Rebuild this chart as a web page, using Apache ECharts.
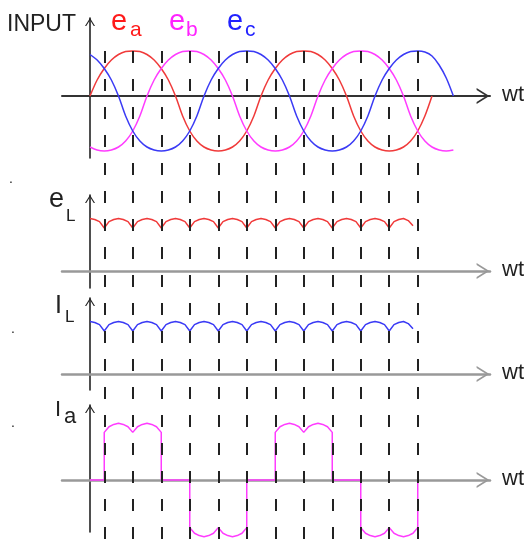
<!DOCTYPE html>
<html>
<head>
<meta charset="utf-8">
<script src="https://cdn.jsdelivr.net/npm/echarts@6/dist/echarts.min.js"></script>
<style>
  html, body { margin: 0; background: #fff; }
  #chart { width: 530px; height: 545px; }
</style>
</head>
<body>
<div id="chart"></div>
<script>
// ---- data (wt in degrees) ----
const inputWt = [0, 15, 30, 45, 60, 75, 90, 105, 120, 135, 150, 165, 180, 195, 210, 225, 240, 255,
  270, 285, 300, 315, 330, 345, 360, 375, 390, 405, 420, 435, 450, 465, 480, 495, 510, 525,
  540, 555, 570, 585, 600, 615, 630, 645, 660, 675, 690, 705, 720, 735, 750, 765];
const ea = [0, .32, .55, .72, .83, .89, .9, .89, .83, .72, .55, .32, 0, -.4, -.7, -.9, -1.02, -1.08,
  -1.1, -1.08, -1.02, -.9, -.7, -.4, 0, .32, .55, .72, .83, .89, .9, .89, .83, .72, .55, .32,
  0, -.4, -.7, -.9, -1.02, -1.08, -1.1, -1.08, -1.02, -.9, -.7, -.4, 0];
const eb = [-1.02, -1.08, -1.1, -1.08, -1.02, -.9, -.7, -.4, 0, .32, .55, .72, .83, .89, .9, .89,
  .83, .72, .55, .32, 0, -.4, -.7, -.9, -1.02, -1.08, -1.1, -1.08, -1.02, -.9, -.7, -.4,
  0, .32, .55, .72, .83, .89, .9, .89, .83, .72, .55, .32, 0, -.4, -.7, -.9, -1.02, -1.08, -1.1, -1.08];
const ec = [.83, .72, .55, .32, 0, -.4, -.7, -.9, -1.02, -1.08, -1.1, -1.08, -1.02, -.9, -.7, -.4,
  0, .32, .55, .72, .83, .89, .9, .89, .83, .72, .55, .32, 0, -.4, -.7, -.9, -1.02, -1.08, -1.1, -1.08,
  -1.02, -.9, -.7, -.4, 0, .32, .55, .72, .83, .89, .9, .88, .8, .62, .36, 0];

const rippleWt = [0, 10, 20, 30, 40, 50, 60, 70, 80, 90, 100, 110, 120, 130, 140, 150, 160, 170,
  180, 190, 200, 210, 220, 230, 240, 250, 260, 270, 280, 290, 300, 310, 320, 330, 340, 350,
  360, 370, 380, 390, 400, 410, 420, 430, 440, 450, 460, 470, 480, 490, 500, 510, 520, 530,
  540, 550, 560, 570, 580, 590, 600, 610, 620, 630, 640, 650, 660, 670, 680];
const eL = [1, .98, .94, .82, .94, .98, 1, .98, .94, .82, .94, .98, 1, .98, .94, .82, .94, .98,
  1, .98, .94, .82, .94, .98, 1, .98, .94, .82, .94, .98, 1, .98, .94, .82, .94, .98,
  1, .98, .94, .82, .94, .98, 1, .98, .94, .82, .94, .98, 1, .98, .94, .82, .94, .98,
  1, .98, .94, .82, .94, .98, 1, .98, .94, .82, .94, .98, 1, .96, .86];
const iL = [1, .98, .94, .82, .94, .98, 1, .98, .94, .82, .94, .98, 1, .98, .94, .82, .94, .98,
  1, .98, .94, .82, .94, .98, 1, .98, .94, .82, .94, .98, 1, .98, .94, .82, .94, .98,
  1, .98, .94, .82, .94, .98, 1, .98, .94, .82, .94, .98, 1, .98, .94, .82, .94, .98,
  1, .98, .94, .82, .94, .98, 1, .98, .94, .82, .94, .98, 1, .96, .86];

const iaWt = [0,
  30, 30, 40, 50, 60, 70, 80, 90, 100, 110, 120, 130, 140, 150, 150,
  210, 210, 220, 230, 240, 250, 260, 270, 280, 290, 300, 310, 320, 330, 330,
  390, 390, 400, 410, 420, 430, 440, 450, 460, 470, 480, 490, 500, 510, 510,
  570, 570, 580, 590, 600, 610, 620, 630, 640, 650, 660, 670, 680, 690, 690];
const ia = [0,
  0, .84, .94, .98, 1, .98, .94, .84, .94, .98, 1, .98, .94, .84, 0,
  0, -.84, -.94, -.98, -1, -.98, -.94, -.84, -.94, -.98, -1, -.98, -.94, -.84, 0,
  0, .84, .94, .98, 1, .98, .94, .84, .94, .98, 1, .98, .94, .84, 0,
  0, -.84, -.94, -.98, -1, -.98, -.94, -.84, -.94, -.98, -1, -.98, -.94, -.84, 0];

const dashWt = [30, 90, 150, 210, 270, 330, 390, 450, 510, 570, 630, 690];

// ---- layout ----
const X0 = 90, PX_PER_DEG = 0.475, AX_LEFT = 62, AX_RIGHT = 490;
const xMin = (AX_LEFT - X0) / PX_PER_DEG;
const xMax = (AX_RIGHT - X0) / PX_PER_DEG;

const panels = [
  { top: 18, zero: 96, bottom: 158, unit: 50, hColor: '#333', hWidth: 2 },
  { top: 195, zero: 271, bottom: 288, unit: 52.5, hColor: '#999', hWidth: 2.5 },
  { top: 298, zero: 374, bottom: 390, unit: 52.5, hColor: '#999', hWidth: 2.5 },
  { top: 405, zero: 480, bottom: 532, unit: 56.7, hColor: '#999', hWidth: 2.5 }
];

const chevron = 'path://M10,0L20,16L17.5,16L10,4L2.5,16L0,16Z';
const FONT = '"Liberation Sans", Arial, sans-serif';

const grids = [], xAxes = [], yAxes = [];
panels.forEach(function (p) {
  grids.push({ left: AX_LEFT, width: AX_RIGHT - AX_LEFT, top: p.top, height: p.bottom - p.top });
  xAxes.push({
    type: 'value', gridIndex: grids.length - 1, min: xMin, max: xMax,
    axisLine: { onZero: true, symbol: ['none', chevron], symbolSize: [16, 14], symbolOffset: [0, -7],
      lineStyle: { color: p.hColor, width: p.hWidth } },
    axisTick: { show: false }, axisLabel: { show: false }, splitLine: { show: false }
  });
  yAxes.push({
    type: 'value', gridIndex: grids.length - 1,
    min: -(p.bottom - p.zero) / p.unit, max: (p.zero - p.top) / p.unit,
    axisLine: { show: true, onZero: true, symbol: ['none', chevron], symbolSize: [10, 8], symbolOffset: [0, -4],
      lineStyle: { color: '#222', width: 1.6 } },
    axisTick: { show: false }, axisLabel: { show: false }, splitLine: { show: false }
  });
});
// full height grid for the dashed guide lines
grids.push({ left: AX_LEFT, width: AX_RIGHT - AX_LEFT, top: 51, height: 494 });
xAxes.push({ type: 'value', gridIndex: 4, min: xMin, max: xMax, show: false });
yAxes.push({ type: 'value', gridIndex: 4, min: 0, max: 1, show: false });

function pairs(xs, ys) {
  return ys.map(function (v, i) { return [xs[i], v]; });
}

function curve(idx, xs, ys, color, smooth) {
  return {
    type: 'line', xAxisIndex: idx, yAxisIndex: idx, data: pairs(xs, ys),
    smooth: smooth, symbol: 'none', clip: false, z: 3,
    lineStyle: { color: color, width: 1.5 }
  };
}

function label(x, y, text, size, color) {
  return { type: 'text', x: x, y: y, z: 10,
    style: { text: text, fill: color, font: size + 'px ' + FONT, textAlign: 'left', verticalAlign: 'middle' } };
}

const option = {
  animation: false,
  backgroundColor: '#fff',
  grid: grids,
  xAxis: xAxes,
  yAxis: yAxes,
  series: [
    {
      type: 'line', xAxisIndex: 4, yAxisIndex: 4, data: [], z: 1,
      markLine: {
        silent: true, symbol: ['none', 'none'], label: { show: false },
        lineStyle: { color: '#222', width: 2, type: [12, 16], dashOffset: 22 },
        data: dashWt.map(function (v) { return { xAxis: v }; })
      }
    },
    curve(0, inputWt, ea, '#f03a3a', 0.3),
    curve(0, inputWt, eb, '#ff3cff', 0.3),
    curve(0, inputWt, ec, '#3a3af5', 0.3),
    curve(1, rippleWt, eL, '#f03a3a', false),
    curve(2, rippleWt, iL, '#3a3af5', false),
    curve(3, iaWt, ia, '#ff3cff', false)
  ],
  graphic: [
    label(7, 25, 'INPUT', 23, '#222'),
    label(111, 22, 'e', 29, '#ff1a1a'),
    label(130, 30.5, 'a', 21, '#ff1a1a'),
    label(169, 22, 'e', 29, '#ff22ff'),
    label(186, 30.5, 'b', 21, '#ff22ff'),
    label(227, 22, 'e', 29, '#2222ff'),
    label(245, 30.5, 'c', 21, '#2222ff'),
    label(502, 95, 'wt', 22, '#222'),
    label(502, 270, 'wt', 22, '#222'),
    label(502, 373, 'wt', 22, '#222'),
    label(502, 479, 'wt', 22, '#222'),
    label(49, 200, 'e', 27, '#222'),
    label(66, 216, 'L', 17, '#222'),
    label(55, 306, 'I', 25, '#222'),
    label(65, 317, 'L', 17, '#222'),
    label(55, 410, 'I', 22, '#222'),
    label(64, 417, 'a', 22, '#222'),
    label(9, 179, '.', 14, '#222'),
    label(11, 329, '.', 14, '#222'),
    label(11, 423, '.', 14, '#222')
  ]
};

const myChart = echarts.init(document.getElementById('chart'));
myChart.setOption(option);
</script>
</body>
</html>
